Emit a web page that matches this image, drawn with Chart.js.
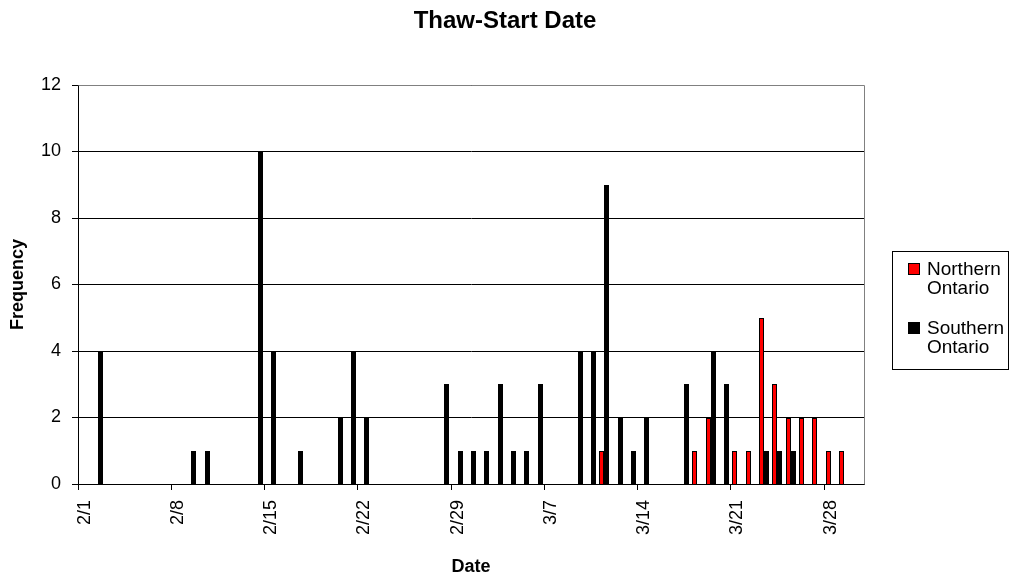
<!DOCTYPE html>
<html>
<head>
<meta charset="utf-8">
<title>Thaw-Start Date</title>
<script src="https://cdn.jsdelivr.net/npm/chart.js@4.4.1/dist/chart.umd.min.js"></script>
<style>
  body { margin: 0; background: #fff; }
  canvas { display: block; }
</style>
</head>
<body>
<canvas id="grafico" width="1010" height="586"></canvas>
<script>
const dias = [
  '2/1', '2/2', '2/3', '2/4', '2/5', '2/6', '2/7',
  '2/8', '2/9', '2/10', '2/11', '2/12', '2/13', '2/14',
  '2/15', '2/16', '2/17', '2/18', '2/19', '2/20', '2/21',
  '2/22', '2/23', '2/24', '2/25', '2/26', '2/27', '2/28',
  '2/29', '3/1', '3/2', '3/3', '3/4', '3/5', '3/6',
  '3/7', '3/8', '3/9', '3/10', '3/11', '3/12', '3/13',
  '3/14', '3/15', '3/16', '3/17', '3/18', '3/19', '3/20',
  '3/21', '3/22', '3/23', '3/24', '3/25', '3/26', '3/27',
  '3/28', '3/29', '3/30'
];

// frequencia por dia (uma linha = uma semana)
const norte = [
  0, 0, 0, 0, 0, 0, 0,
  0, 0, 0, 0, 0, 0, 0,
  0, 0, 0, 0, 0, 0, 0,
  0, 0, 0, 0, 0, 0, 0,
  0, 0, 0, 0, 0, 0, 0,
  0, 0, 0, 0, 1, 0, 0,
  0, 0, 0, 0, 1, 2, 0,
  1, 1, 5, 3, 2, 2, 2,
  1, 1, 0
];

const sul = [
  0, 4, 0, 0, 0, 0, 0,
  0, 1, 1, 0, 0, 0, 10,
  4, 0, 1, 0, 0, 2, 4,
  2, 0, 0, 0, 0, 0, 3,
  1, 1, 1, 3, 1, 1, 3,
  0, 0, 4, 4, 9, 2, 1,
  2, 0, 0, 3, 0, 4, 3,
  0, 0, 1, 1, 1, 0, 0,
  0, 0, 0
];

const legendaNorte = ['Northern', 'Ontario'];
const legendaSul = ['Southern', 'Ontario'];

const fonte = "Arial, 'Liberation Sans', sans-serif";
Chart.defaults.font.family = fonte;
Chart.defaults.color = '#000';

// arredonda as barras para pixels inteiros (bordas nitidas)
const pixelInteiro = {
  id: 'pixelInteiro',
  afterDatasetsUpdate(chart) {
    chart.data.datasets.forEach((ds, i) => {
      chart.getDatasetMeta(i).data.forEach(bar => {
        const w = Math.round(bar.width);
        const esq = Math.round(bar.x - bar.width / 2);
        bar.x = esq + w / 2;
        bar.width = w;
        bar.y = Math.round(bar.y);
        bar.base = Math.round(bar.base);
      });
    });
  }
};

// moldura cinza da area do grafico
const moldura = {
  id: 'moldura',
  beforeDatasetsDraw(chart) {
    const { ctx, chartArea: a } = chart;
    ctx.save();
    ctx.strokeStyle = '#808080';
    ctx.lineWidth = 1;
    ctx.beginPath();
    ctx.moveTo(Math.round(a.left) + 0.5, Math.round(a.top) + 0.5);
    ctx.lineTo(Math.round(a.right) + 0.5, Math.round(a.top) + 0.5);
    ctx.lineTo(Math.round(a.right) + 0.5, Math.round(a.bottom) + 0.5);
    ctx.stroke();
    ctx.restore();
  }
};

// legenda com texto em duas linhas
const legenda = {
  id: 'legenda',
  afterDraw(chart) {
    const ctx = chart.ctx;
    ctx.save();
    ctx.strokeStyle = '#000';
    ctx.lineWidth = 1;
    ctx.strokeRect(892.5, 251.5, 116, 118);
    const itens = [
      { linhas: legendaNorte, cor: chart.data.datasets[0].backgroundColor, y: 275 },
      { linhas: legendaSul, cor: chart.data.datasets[1].backgroundColor, y: 334 }
    ];
    ctx.font = '19px ' + fonte;
    ctx.textBaseline = 'alphabetic';
    itens.forEach(item => {
      ctx.fillStyle = item.cor;
      ctx.fillRect(909, item.y - 11, 10, 10);
      ctx.strokeRect(908.5, item.y - 11.5, 11, 11);
      ctx.fillStyle = '#000';
      item.linhas.forEach((t, i) => ctx.fillText(t, 927, item.y + i * 18.5));
    });
    ctx.restore();
  }
};

new Chart(document.getElementById('grafico'), {
  type: 'bar',
  data: {
    labels: dias,
    datasets: [
      {
        label: legendaNorte.join(' '),
        data: norte,
        backgroundColor: '#FF0000',
        borderColor: '#000',
        borderWidth: 1,
        inflateAmount: 0,
        barPercentage: 1,
        categoryPercentage: 0.76
      },
      {
        label: legendaSul.join(' '),
        data: sul,
        backgroundColor: '#000',
        borderColor: '#000',
        borderWidth: 1,
        inflateAmount: 0,
        barPercentage: 1,
        categoryPercentage: 0.76
      }
    ]
  },
  options: {
    responsive: false,
    animation: false,
    devicePixelRatio: 1,
    plugins: {
      legend: { display: false },
      tooltip: { enabled: false },
      title: {
        display: true,
        text: 'Thaw-Start Date',
        font: { size: 24, weight: 'bold' },
        padding: { top: 7, bottom: 49.2 }
      }
    },
    scales: {
      x: {
        ticks: {
          autoSkip: false,
          minRotation: 90,
          maxRotation: 90,
          padding: 10,
          font: { size: 18 },
          callback(v, i) {
            return i % 7 === 0 ? this.getLabelForValue(v) : '';
          }
        },
        grid: {
          offset: true,
          drawOnChartArea: false,
          tickLength: 6,
          tickColor: c => (c.index % 7 === 0 ? '#000' : 'rgba(0,0,0,0)')
        },
        border: { color: '#000' },
        title: {
          display: true,
          text: 'Date',
          font: { size: 18, weight: 'bold' },
          padding: { top: 0, bottom: 8 }
        },
        afterFit(s) { s.height = 102; }
      },
      y: {
        min: 0,
        max: 12,
        ticks: { stepSize: 2, padding: 11, font: { size: 18 } },
        grid: { color: '#000', tickLength: 6 },
        border: { color: '#000' },
        title: {
          display: true,
          text: 'Frequency',
          font: { size: 18, weight: 'bold' },
          padding: { top: 7, bottom: 0 }
        },
        afterFit(s) { s.width = 78; }
      },
      // espaco reservado para a legenda a direita
      espaco: {
        type: 'linear',
        position: 'right',
        ticks: { display: false },
        grid: { display: false },
        border: { display: false },
        afterFit(s) { s.width = 146; }
      }
    }
  },
  plugins: [pixelInteiro, moldura, legenda]
});
</script>
</body>
</html>
